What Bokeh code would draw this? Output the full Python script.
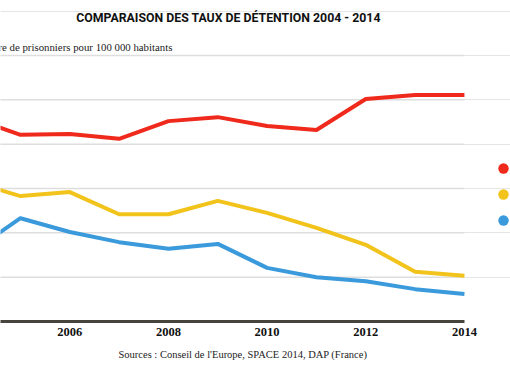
from bokeh.plotting import figure
from bokeh.models import (ColumnDataSource, Range1d, FixedTicker, Label, Title,
                          Legend, LegendItem)
from bokeh.embed import file_html
from bokeh.resources import INLINE

# ---- data ----
years = [2004, 2005, 2006, 2007, 2008, 2009, 2010, 2011, 2012, 2013, 2014]
france = [96.0, 92.1, 92.3, 91.2, 95.2, 96.1, 94.1, 93.2, 100.2, 101.1, 101.1]
suede = [81.6, 78.3, 79.2, 74.2, 74.2, 77.2, 74.5, 71.1, 67.3, 61.2, 60.3]
finlande = [65.6, 73.3, 70.2, 67.9, 66.4, 67.5, 62.1, 60.0, 59.1, 57.3, 56.2]
series_names = ["France", "Suède", "Finlande"]
x_ticks = [2006, 2008, 2010, 2012, 2014]
y_ticks = [60, 70, 80, 90, 100, 110]

title_text = "COMPARAISON DES TAUX DE DÉTENTION 2004 - 2014"
ylabel_text = "Nombre de prisonniers pour 100 000 habitants"
source_text = "Sources : Conseil de l'Europe, SPACE 2014, DAP (France)"

colors = ["#EF2A1C", "#F2C31A", "#3A9ADB"]

W, H = 510, 370
src = ColumnDataSource(dict(year=years, france=france, suede=suede, finlande=finlande))

p = figure(width=W, height=H, output_backend="svg", toolbar_location=None,
           x_range=Range1d(2004.595, 2014.934), y_range=Range1d(50, 122.41),
           y_axis_location=None, min_border_left=0, min_border_right=0,
           min_border_top=0, min_border_bottom=49)
p.outline_line_color = None
p.background_fill_color = "white"
p.border_fill_color = "white"
p.xgrid.visible = False

# horizontal grid lines, spanning the data years only
n = len(y_ticks)
p.segment(x0=[years[0]] * n, x1=[years[-1]] * n, y0=y_ticks, y1=y_ticks,
          line_color="#dedede", line_width=1.5)

ax = p.xaxis[0]
ax.ticker = FixedTicker(ticks=x_ticks)
ax.bounds = (years[0], years[-1])
ax.axis_line_color = "#46443c"
ax.axis_line_width = 3
ax.axis_line_cap = "butt"
ax.major_tick_line_color = None
ax.minor_tick_line_color = None
ax.major_tick_out = 0
ax.major_tick_in = 0
ax.major_label_standoff = 6
ax.major_label_text_font = "Liberation Serif"
ax.major_label_text_font_style = "bold"
ax.major_label_text_font_size = "12.5px"
ax.major_label_text_color = "#111111"

for col, c in zip(["france", "suede", "finlande"], colors):
    p.line("year", col, source=src, line_color=c, line_width=4, line_join="round")

# legend dots (the labels run past the right edge, as in the reference)
dots = [p.scatter("year", col, source=src, marker="circle", size=0,
                  fill_color=c, line_color=None)
        for col, c in zip(["france", "suede", "finlande"], colors)]
legend = Legend(items=[LegendItem(label=nm, renderers=[r]) for nm, r in zip(series_names, dots)],
                location=(488, 88), orientation="vertical", glyph_width=30, glyph_height=26,
                spacing=0, padding=0, margin=0, border_line_color=None,
                background_fill_alpha=0, label_text_font="Liberation Serif",
                label_text_font_size="12px", label_standoff=6, label_height=20)
p.add_layout(legend)

p.add_layout(Label(x=228, y=304, x_units="screen", y_units="screen", text=title_text,
                   text_font="Roboto", text_font_style="bold", text_font_size="12.3px",
                   text_align="center", text_baseline="middle", text_color="#111111"))
p.add_layout(Label(x=-29, y=275, x_units="screen", y_units="screen", text=ylabel_text,
                   text_font="Liberation Serif", text_font_size="10.8px",
                   text_align="left", text_baseline="middle", text_color="#222222"))

p.add_layout(Title(text=source_text, align="left", offset=118, standoff=16,
                   text_font="Liberation Serif", text_font_style="normal",
                   text_font_size="10.5px", text_color="#222222"), "below")

open("out.html", "w").write(file_html(p, INLINE))
